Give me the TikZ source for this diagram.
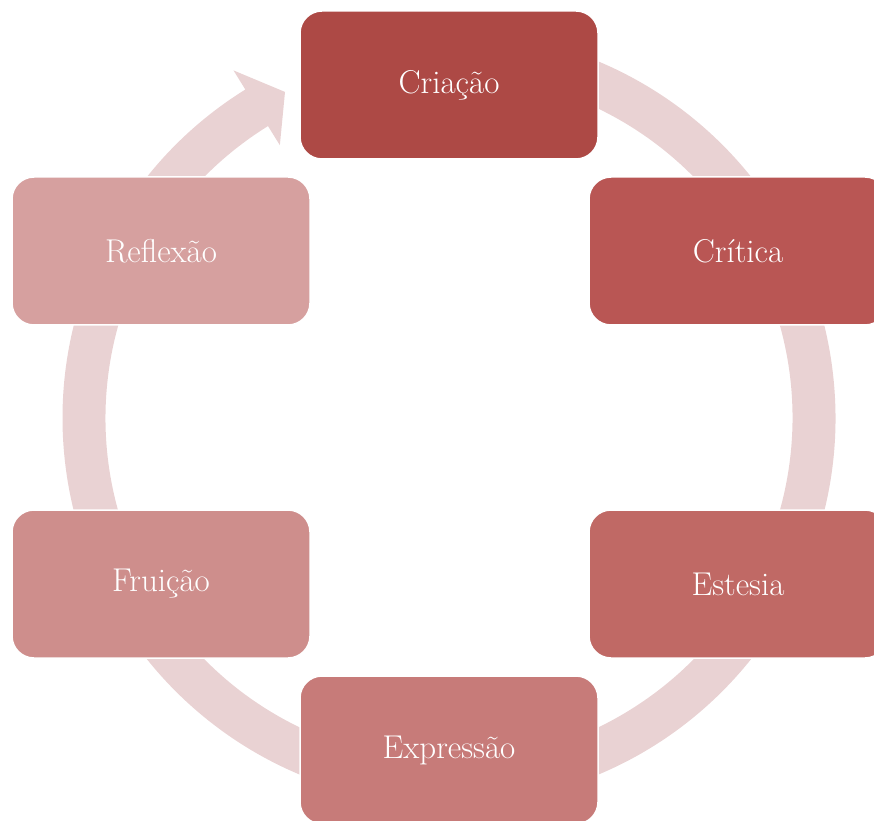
\documentclass[tikz,border=0pt]{standalone}
\usepackage{fontspec}
\usetikzlibrary{calc}
\definecolor{ringc}{HTML}{E9D2D3}
\definecolor{c1}{HTML}{AD4945}
\definecolor{c2}{HTML}{B95654}
\definecolor{c3}{HTML}{C06965}
\definecolor{c4}{HTML}{C77B79}
\definecolor{c5}{HTML}{CE8E8C}
\definecolor{c6}{HTML}{D6A09F}
\tikzset{
  cyclebox/.style={draw=white, line width=1.5pt, rounded corners=22pt,
    minimum width=298pt, minimum height=148pt, text=white,
    font=\fontsize{33}{39}\selectfont, inner sep=0pt}
}
\begin{document}
\begin{tikzpicture}[x=1pt,y=1pt]
\useasboundingbox (0,0) rectangle (874,820);
\clip (0,0) rectangle (874,820);
\coordinate (C) at (449,402);
% ring with arrow head
\fill[ringc] ($(C)+(95:386.5pt)$) arc[start angle=95, end angle=-238.2, radius=386.5pt]
  -- ($(C)+(-238.2:409pt)$) -- ($(C)+(-243.3:365pt)$) -- ($(C)+(-238.2:321pt)$)
  -- ($(C)+(-238.2:343.5pt)$) arc[start angle=-238.2, end angle=95, radius=343.5pt] -- cycle;
% boxes
\node[cyclebox, fill=c1] (cri) at (449,735) {Criação};
\node[cyclebox, fill=c2] (crt) at (738,569) {Crítica};
\node[cyclebox, fill=c3] (est) at (738,236) {Estesia};
\node[cyclebox, fill=c4] (exp) at (449,70) {Expressão};
\node[cyclebox, fill=c5] (fru) at (161,236) {Fruição};
\node[cyclebox, fill=c6] (ref) at (161,569) {Reflexão};
\end{tikzpicture}
\end{document}
